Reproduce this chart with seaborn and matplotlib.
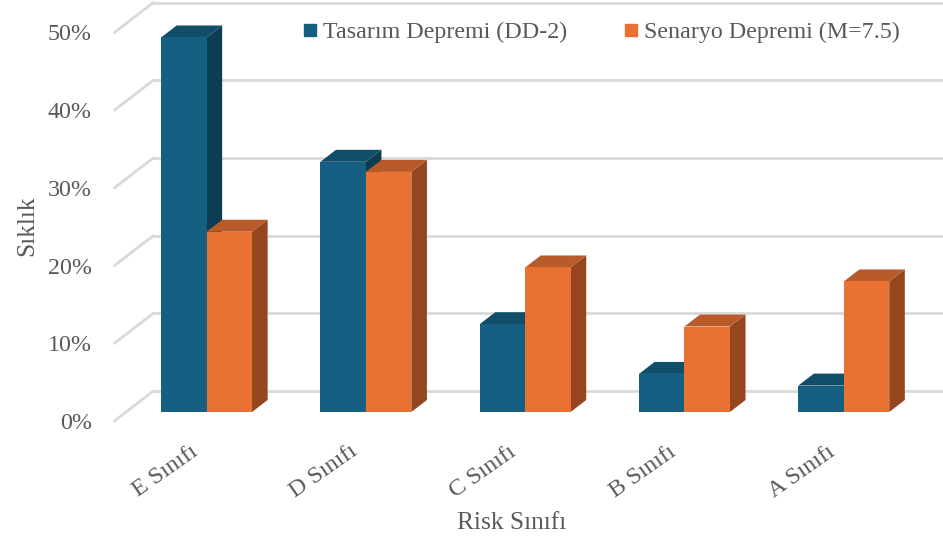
import matplotlib
matplotlib.use("Agg")
import matplotlib.pyplot as plt
from matplotlib.patches import Polygon
from matplotlib.lines import Line2D
from matplotlib.transforms import ScaledTranslation
import pandas as pd
import seaborn as sns

# ---- data -------------------------------------------------------------
categories = ["E Sınıfı", "D Sınıfı", "C Sınıfı", "B Sınıfı", "A Sınıfı"]
series_names = ["Tasarım Depremi (DD-2)", "Senaryo Depremi (M=7.5)"]
design_eq = [48.2, 32.2, 11.3, 4.9, 3.4]
scenario_eq = [23.2, 30.9, 18.6, 11.0, 16.8]
y_ticks = [0, 10, 20, 30, 40, 50]
y_tick_labels = ["0%", "10%", "20%", "30%", "40%", "50%"]

# ---- styling ----------------------------------------------------------
W, H, DPI = 943, 542, 100
front_colors = ["#156082", "#E97132"]
top_colors = ["#114E6A", "#B85A29"]
side_colors = ["#0D3D52", "#95461F"]
grid_color = "#D9D9D9"
text_color = "#595959"
fs = 17.3

sns.set_style("white")
plt.rcParams["font.family"] = ["Liberation Serif", "DejaVu Serif"]

df = pd.DataFrame({
    "Risk": categories * 2,
    "Value": design_eq + scenario_eq,
    "Series": [series_names[0]] * len(categories) + [series_names[1]] * len(categories),
})

fig = plt.figure(figsize=(W / DPI, H / DPI), dpi=DPI)
# axes occupy the plane of the bars' front faces (pixel geometry)
x_left_px, x_right_px = 126.1, 923.4
y_base_px, y_top_px = 412.0, 23.5
ax = fig.add_axes([x_left_px / W, (H - y_base_px) / H,
                   (x_right_px - x_left_px) / W, (y_base_px - y_top_px) / H])

sns.barplot(data=df, x="Risk", y="Value", hue="Series", order=categories,
            hue_order=series_names, palette=front_colors, saturation=1,
            width=0.571, dodge=True, ax=ax, legend=False, linewidth=0)

ax.set_xlim(-0.505, 4.5)
ax.set_ylim(0, 50)
for s in ax.spines.values():
    s.set_visible(False)

# pixel -> data scales
px_per_x = (x_right_px - x_left_px) / (4.5 + 0.505)
px_per_y = (y_base_px - y_top_px) / 50.0

def depth_offset(depth_px):
    """Oblique projection offset (data units) for a given depth in pixels."""
    return 1.3 * depth_px / px_per_x, depth_px / px_per_y

bar_dx, bar_dy = depth_offset(12)     # depth of each bar
wall_dx, wall_dy = depth_offset(21)   # back wall behind the bar plane
floor_dx, floor_dy = depth_offset(-9) # front edge of floor / side wall

x0_ax, x1_ax = ax.get_xlim()

# back wall and side wall gridlines
for v in y_ticks:
    ax.add_line(Line2D([x0_ax + wall_dx, x1_ax + wall_dx], [v + wall_dy, v + wall_dy],
                       color=grid_color, lw=2.0, zorder=0.5, clip_on=False))
    ax.add_line(Line2D([x0_ax + floor_dx, x0_ax + wall_dx], [v + floor_dy, v + wall_dy],
                       color=grid_color, lw=2.0, zorder=0.5, clip_on=False))

# turn the flat bars into boxes: side and top faces
for j, container in enumerate(ax.containers):
    for i, bar in enumerate(container):
        x0 = bar.get_x()
        w = bar.get_width()
        h = bar.get_height()
        base_z = 10 + i * 10 + j * 3
        side = Polygon([(x0 + w, 0), (x0 + w, h), (x0 + w + bar_dx, h + bar_dy),
                        (x0 + w + bar_dx, bar_dy)], closed=True,
                       facecolor=side_colors[j], edgecolor="none", zorder=base_z,
                       clip_on=False)
        top = Polygon([(x0, h), (x0 + w, h), (x0 + w + bar_dx, h + bar_dy),
                       (x0 + bar_dx, h + bar_dy)], closed=True,
                      facecolor=top_colors[j], edgecolor="none", zorder=base_z + 1,
                      clip_on=False)
        ax.add_patch(side)
        ax.add_patch(top)
        bar.set_zorder(base_z + 2)
        bar.set_clip_on(False)

# y ticks sit on the front edge of the side wall
ax.set_yticks(y_ticks)
ax.set_yticklabels(y_tick_labels)
ax.tick_params(axis="y", length=0, pad=(x_left_px - 92) * 0.72, labelsize=fs,
               labelcolor=text_color)
y_shift = ScaledTranslation(0, floor_dy * px_per_y / DPI, fig.dpi_scale_trans)
for lab in ax.get_yticklabels():
    lab.set_transform(lab.get_transform() + y_shift)

# category labels along the front floor edge, rotated
ax.set_xticks(range(len(categories)))
ax.set_xticklabels(categories, rotation=35, ha="right", va="top",
                   rotation_mode="anchor")
ax.tick_params(axis="x", length=0, pad=0, labelsize=fs, labelcolor=text_color)
x_shift = ScaledTranslation(-17 / DPI, -29 / DPI, fig.dpi_scale_trans)
for lab in ax.get_xticklabels():
    lab.set_transform(lab.get_transform() + x_shift)

ax.set_ylabel("Sıklık", fontsize=fs + 1, color=text_color)
ax.yaxis.set_label_coords((38 - x_left_px) / (x_right_px - x_left_px),
                          (y_base_px - 226) / (y_base_px - y_top_px))
ax.set_xlabel("Risk Sınıfı", fontsize=fs + 1, color=text_color)
ax.xaxis.set_label_coords((512 - x_left_px) / (x_right_px - x_left_px),
                          (y_base_px - 512) / (y_base_px - y_top_px))

handles = [Line2D([], [], marker="s", linestyle="none", markersize=8,
                  markerfacecolor=c, markeredgecolor=c) for c in front_colors]
fig.legend(handles, series_names, loc="center left",
           bbox_to_anchor=(303 / W, (H - 32) / H), ncol=2, frameon=False,
           fontsize=fs, labelcolor=text_color, handlelength=0.6,
           handletextpad=0.25, columnspacing=2.35, borderpad=0, borderaxespad=0)

fig.savefig("out.png", dpi=DPI)
